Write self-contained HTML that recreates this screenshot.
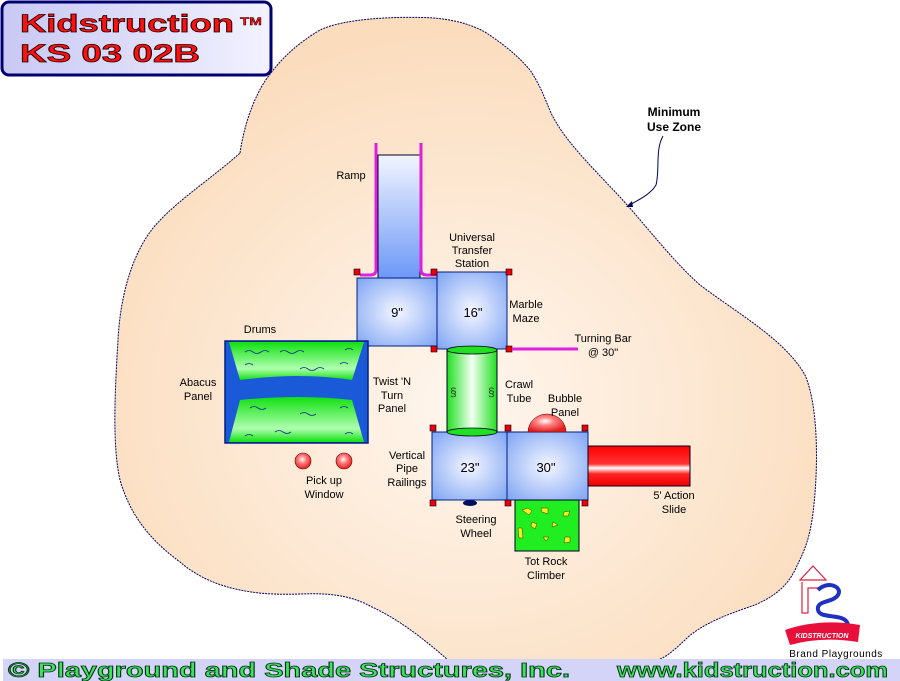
<!DOCTYPE html>
<html><head><meta charset="utf-8"><style>
html,body{margin:0;padding:0;background:#fff}
body{width:900px;height:681px;position:relative;overflow:hidden;font-family:"Liberation Sans",sans-serif}
svg{position:absolute;left:0;top:0}
</style></head><body>
<svg width="900" height="681" viewBox="0 0 900 681" xmlns="http://www.w3.org/2000/svg" font-family="Liberation Sans, sans-serif">
<defs>
<radialGradient id="sand" cx="0.5" cy="0.6" r="0.6"><stop offset="0" stop-color="#fff6ee"/><stop offset="1" stop-color="#fbdcbc"/></radialGradient>
<radialGradient id="deck" cx="0.5" cy="0.5" r="0.7"><stop offset="0" stop-color="#f4f6ff"/><stop offset="1" stop-color="#7ea4f4"/></radialGradient>
<linearGradient id="ramp" x1="0" y1="0" x2="0" y2="1"><stop offset="0" stop-color="#f2f5ff"/><stop offset="1" stop-color="#6c98f6"/></linearGradient>
<linearGradient id="tube" x1="0" y1="0" x2="1" y2="0"><stop offset="0" stop-color="#1ee01e"/><stop offset="0.5" stop-color="#f4fff4"/><stop offset="1" stop-color="#1ee01e"/></linearGradient>
<linearGradient id="slide" x1="0" y1="0" x2="0" y2="1"><stop offset="0" stop-color="#f00"/><stop offset="0.45" stop-color="#f33"/><stop offset="0.55" stop-color="#fff"/><stop offset="0.7" stop-color="#f22"/><stop offset="1" stop-color="#e00"/></linearGradient>
<linearGradient id="drumT" x1="0" y1="0" x2="0" y2="1"><stop offset="0" stop-color="#10e010"/><stop offset="0.7" stop-color="#b0ffb0"/><stop offset="1" stop-color="#10e010"/></linearGradient>
<radialGradient id="ball" cx="0.45" cy="0.4" r="0.6"><stop offset="0" stop-color="#fff"/><stop offset="0.4" stop-color="#ff8080"/><stop offset="1" stop-color="#e02020"/></radialGradient>
<linearGradient id="title" x1="0" y1="0" x2="1" y2="0"><stop offset="0" stop-color="#c8c8f4"/><stop offset="1" stop-color="#f2f2ff"/></linearGradient>
</defs>
<path d="M240,153 C244,125 255,92 271,73 C282,58 298,43 320,30 C345,18 400,16 434,18 C455,20 470,24 485,32 C505,45 520,58 530,70 C542,88 545,100 552,115 C565,140 585,160 620,197 C650,230 670,258 700,285 C740,315 785,340 805,375 C820,410 818,480 812,520 C808,545 802,555 795,570 C785,590 770,598 755,605 C725,615 700,625 685,640 C672,652 665,658 657,660 L448,660 C425,640 400,620 372,607 C350,595 330,593 300,594 C270,595 255,593 240,590 C215,585 195,575 180,562 C150,540 130,515 120,480 C112,445 115,390 118,340 C120,300 130,260 150,232 C170,205 210,180 240,153 Z" fill="url(#sand)" stroke="#000060" stroke-width="1" stroke-dasharray="2,1"/>
<rect x="2" y="2" width="269" height="73" rx="7" fill="url(#title)" stroke="#000070" stroke-width="3"/>
<text x="20" y="32" font-size="25" font-weight="bold" fill="#ff1010" stroke="#200" stroke-width="0.8" textLength="214" lengthAdjust="spacingAndGlyphs">Kidstruction</text>
<text x="240" y="25" font-size="11" font-weight="bold" fill="#ff1010" stroke="#200" stroke-width="0.4" textLength="22" lengthAdjust="spacingAndGlyphs">TM</text>
<text x="20" y="62" font-size="25" font-weight="bold" fill="#ff1010" stroke="#200" stroke-width="0.8" textLength="180" lengthAdjust="spacingAndGlyphs">KS 03 02B</text>
<text x="674" y="116" font-size="12" font-weight="bold" text-anchor="middle">Minimum</text>
<text x="674" y="131" font-size="12" font-weight="bold" text-anchor="middle">Use Zone</text>
<path d="M663,136 C655,150 660,170 656,185 C650,195 638,200 628,206" fill="none" stroke="#000060" stroke-width="1"/>
<path d="M626,207 l6,-6 l1,6 z" fill="#000060"/>
<rect x="378" y="155" width="42" height="123" fill="url(#ramp)" stroke="#002" stroke-width="1"/>
<path d="M376,143 V270 q0,5 -6,5 H360" fill="none" stroke="#e020e0" stroke-width="3"/>
<path d="M421,143 V270 q0,5 6,5 H437" fill="none" stroke="#e020e0" stroke-width="3"/>
<rect x="357" y="278" width="80" height="68" fill="url(#deck)" stroke="#002080"/>
<rect x="437" y="272" width="70" height="77" fill="url(#deck)" stroke="#002080"/>
<rect x="432" y="432" width="75" height="68" fill="url(#deck)" stroke="#002080"/>
<rect x="507" y="432" width="81" height="68" fill="url(#deck)" stroke="#002080"/>
<g fill="#e00" stroke="#002" stroke-width="0.6">
<rect x="354" y="269" width="6" height="6"/><rect x="431" y="269" width="6" height="6"/><rect x="506" y="269" width="6" height="6"/>
<rect x="431" y="346" width="6" height="6"/><rect x="506" y="346" width="6" height="6"/>
<rect x="430" y="425" width="6" height="6"/><rect x="505" y="425" width="6" height="6"/><rect x="582" y="425" width="6" height="6"/>
<rect x="430" y="500" width="6" height="6"/><rect x="505" y="500" width="6" height="6"/><rect x="582" y="500" width="6" height="6"/>
</g>
<line x1="512" y1="349" x2="578" y2="349" stroke="#e020e0" stroke-width="3"/>
<rect x="447" y="350" width="50" height="82" fill="url(#tube)" stroke="#002" stroke-width="1"/>
<ellipse cx="472" cy="350" rx="25" ry="4" fill="#20e020" stroke="#002" stroke-width="0.8"/>
<ellipse cx="472" cy="432" rx="25" ry="4" fill="#20e020" stroke="#002" stroke-width="0.8"/>
<text x="450" y="396" font-size="12" fill="#204020">§</text><text x="488" y="396" font-size="12" fill="#204020">§</text>
<!-- drums -->
<rect x="225" y="341" width="143" height="102" fill="#1a5ad8" stroke="#002080" stroke-width="1.5"/>
<path d="M229,342 L364,342 L352,380 Q300,372 240,380 Z" fill="url(#drumT)"/>
<path d="M240,400 Q300,394 352,400 L364,442 L229,442 Z" fill="url(#drumT)"/>
<g fill="none" stroke="#103080" stroke-width="0.8">
<path d="M245,352 q4,-3 8,0 t8,0 t8,0 M280,352 q4,-3 8,0 t8,0 t8,0 M345,350 q4,-3 8,0"/>
<path d="M245,365 q4,-3 8,0 M300,369 q4,-3 8,0 t8,0 t8,0 M340,364 q4,-3 8,0"/>
<path d="M250,408 q4,-3 8,0 t8,0 M300,414 q4,-3 8,0 t8,0 M340,408 q4,-3 8,0"/>
<path d="M245,436 q4,-3 8,0 M275,432 q4,-3 8,0 t8,0 M345,434 q4,-3 8,0"/>
</g>
<circle cx="303" cy="461" r="8" fill="url(#ball)" stroke="#600" stroke-width="0.6"/>
<circle cx="344" cy="461" r="8" fill="url(#ball)" stroke="#600" stroke-width="0.6"/>
<path d="M528,432 a19,18 0 0 1 38,0 z" fill="url(#ball)" stroke="#600" stroke-width="0.5"/>
<rect x="588" y="446" width="102" height="40" fill="url(#slide)" stroke="#002" stroke-width="1"/>
<rect x="515" y="500" width="64" height="51" fill="#20ee20" stroke="#002" stroke-width="1"/>
<g fill="#f0f020" stroke="#404000" stroke-width="0.5">
<path d="M522,510 l6,-2 l4,3 l-3,4z"/><path d="M541,508 l7,0 l0,6 l-6,-2z"/><path d="M564,512 l6,-1 l-2,5 l-5,0z"/>
<path d="M532,522 l5,2 l-2,5 l-4,-3z"/><path d="M553,522 l5,3 l-6,2z"/><path d="M518,528 l4,0 l1,10 l-4,0z"/>
<path d="M543,537 l6,0 l-3,4z"/><path d="M565,537 l5,0 l0,5 l-6,1z"/>
</g>
<ellipse cx="470" cy="503" rx="7" ry="3" fill="#001060"/>
<g font-size="11" fill="#000" text-anchor="middle">
<text x="351" y="179">Ramp</text>
<text x="472" y="241">Universal</text><text x="472" y="254">Transfer</text><text x="472" y="267">Station</text>
<text x="397" y="317" font-size="13">9"</text><text x="473" y="317" font-size="13">16"</text>
<text x="526" y="308">Marble</text><text x="526" y="322">Maze</text>
<text x="603" y="342">Turning Bar</text><text x="603" y="356">@ 30"</text>
<text x="260" y="333">Drums</text>
<text x="198" y="386">Abacus</text><text x="198" y="400">Panel</text>
<text x="392" y="385">Twist 'N</text><text x="392" y="399">Turn</text><text x="392" y="412">Panel</text>
<text x="519" y="388">Crawl</text><text x="519" y="402">Tube</text>
<text x="565" y="402">Bubble</text><text x="565" y="416">Panel</text>
<text x="407" y="459">Vertical</text><text x="407" y="472">Pipe</text><text x="407" y="486">Railings</text>
<text x="470" y="472" font-size="13">23"</text><text x="546" y="472" font-size="13">30"</text>
<text x="324" y="484">Pick up</text><text x="324" y="498">Window</text>
<text x="674" y="499">5' Action</text><text x="674" y="513">Slide</text>
<text x="476" y="523">Steering</text><text x="476" y="537">Wheel</text>
<text x="546" y="565">Tot Rock</text><text x="546" y="579">Climber</text>
</g>
<path d="M800,580 L813,566 L826,580 Z" fill="none" stroke="#e02040" stroke-width="1.2"/>
<path d="M802,582 V613 H808 V588 H820" fill="none" stroke="#e02040" stroke-width="1.2"/>
<path d="M818,590 c10,-10 25,-3 20,5 c-5,8 -22,5 -20,15 c2,10 28,2 30,15" fill="none" stroke="#2030c0" stroke-width="4"/>
<path d="M785,630 Q820,618 860,625 L858,642 Q822,636 790,645 Z" fill="#e8103a"/>
<text x="822" y="638" font-size="7" font-weight="bold" font-style="italic" fill="#fff" text-anchor="middle">KIDSTRUCTION</text>
<text x="836" y="657" font-size="10" fill="#000" text-anchor="middle" letter-spacing="0.5">Brand Playgrounds</text>
<rect x="3" y="659" width="897" height="22" fill="#d4d4f8"/>
<text x="8" y="677" font-size="20" font-weight="bold" fill="#40e060" stroke="#003010" stroke-width="0.8" textLength="562" lengthAdjust="spacingAndGlyphs">© Playground and Shade Structures, Inc.</text>
<text x="617" y="677" font-size="20" font-weight="bold" fill="#40e060" stroke="#003010" stroke-width="0.8" textLength="271" lengthAdjust="spacingAndGlyphs">www.kidstruction.com</text>
</svg>
</body></html>
